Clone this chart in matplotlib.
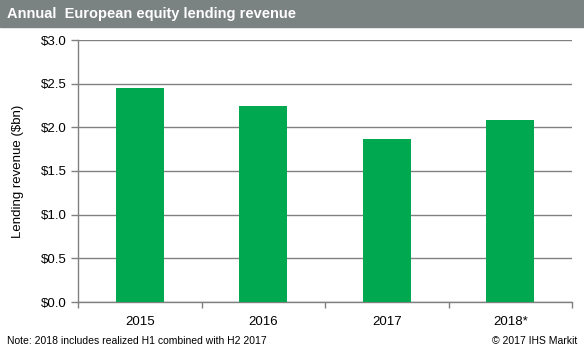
import matplotlib.pyplot as plt
import numpy as np
from matplotlib.ticker import FuncFormatter, MultipleLocator

plt.rcParams['font.family'] = ['Liberation Sans', 'DejaVu Sans']

years = ['2015', '2016', '2017', '2018*']
revenue = [2.45, 2.245, 1.87, 2.08]

green = '#00a94f'
grey = '#808080'

fig = plt.figure(figsize=(5.84, 3.52), dpi=100)

# title band
fig.patches.append(plt.Rectangle((0, 1 - 27 / 352), 1, 27 / 352,
                                 transform=fig.transFigure, color='#7b8282', zorder=0))
fig.text(7 / 584, 1 - 14 / 352, 'Annual  European equity lending revenue',
         color='white', fontsize=10.5, fontweight='bold', va='center', ha='left')

ax = fig.add_axes([78 / 584, 1 - 302 / 352, (572 - 78) / 584, (302 - 40) / 352])
x = np.arange(len(years))
ax.bar(x, revenue, width=0.39, color=green, zorder=3)

ax.set_xlim(-0.5, len(years) - 0.5)
ax.set_ylim(0, 3.0)
ax.yaxis.set_major_locator(MultipleLocator(0.5))
ax.yaxis.set_major_formatter(FuncFormatter(lambda v, p: f'${v:.1f}'))
ax.grid(axis='y', color=grey, linewidth=1.0, zorder=0)

ax.set_xticks(x)
ax.set_xticklabels(years, fontsize=9.5)
ax.set_xticks(np.arange(-0.5, len(years), 1.0), minor=True)
ax.tick_params(axis='x', which='major', length=0, pad=10)
ax.tick_params(axis='x', which='minor', length=4, color=grey, width=1)
ax.tick_params(axis='y', length=5, color=grey, width=1, labelsize=9.5, pad=3)

for s in ['top', 'right']:
    ax.spines[s].set_visible(False)
for s in ['left', 'bottom']:
    ax.spines[s].set_color(grey)
    ax.spines[s].set_linewidth(1)

ax.set_ylabel('Lending revenue ($bn)', fontsize=9.5, labelpad=12)

fig.text(7 / 584, 1 - 341 / 352, 'Note: 2018 includes realized H1 combined with H2 2017',
         fontsize=7.5, va='center', ha='left')
fig.text(577 / 584, 1 - 341 / 352, '\u00a9 2017 IHS Markit',
         fontsize=7.5, va='center', ha='right')

fig.savefig('out.png', dpi=100)
